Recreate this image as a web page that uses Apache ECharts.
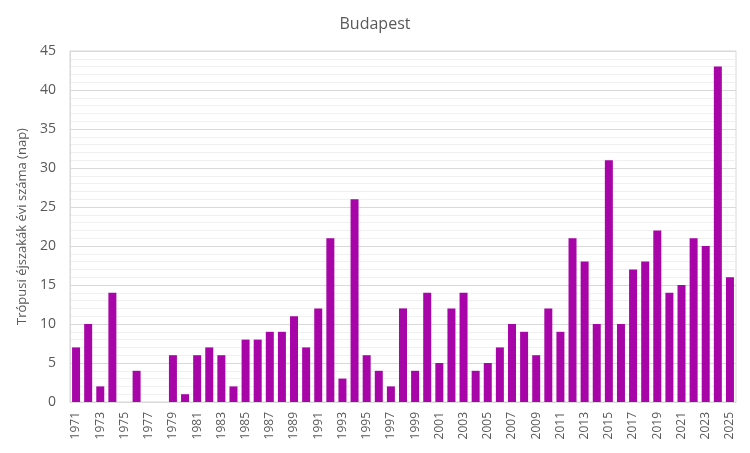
<!DOCTYPE html>
<html>
<head>
<meta charset="utf-8">
<script src="https://cdn.jsdelivr.net/npm/echarts@6/dist/echarts.min.js"></script>
<style>
  html, body { margin: 0; padding: 0; background: #fff; }
  #chart { width: 750px; height: 453px; }
</style>
</head>
<body>
<div id="chart"></div>
<script>
const years = []
for (let y = 1971; y <= 2025; y++) years.push(String(y))

const nights = [
  7, 10, 2, 14, 0, 4, 0, 0, 6, 1,
  6, 7, 6, 2, 8, 8, 9, 9, 11, 7,
  12, 21, 3, 26, 6, 4, 2, 12, 4, 14,
  5, 12, 14, 4, 5, 7, 10, 9, 6, 12,
  9, 21, 18, 10, 31, 10, 17, 18, 22, 14,
  15, 21, 20, 43, 16
]

const chart = echarts.init(document.getElementById('chart'))
const textColor = '#595959'
chart.setOption({
  animation: false,
  title: {
    text: 'Budapest',
    left: 'center',
    top: 11,
    textStyle: { color: textColor, fontSize: 16, fontWeight: 'normal', fontFamily: 'Open Sans' }
  },
  grid: {
    left: 70,
    right: 14,
    top: 51,
    bottom: 51,
    show: true,
    borderColor: '#d9d9d9',
    borderWidth: 1
  },
  xAxis: {
    type: 'category',
    data: years,
    axisLine: { lineStyle: { color: '#d9d9d9' } },
    axisTick: { show: false },
    axisLabel: {
      interval: 1,
      rotate: 90,
      color: textColor,
      fontSize: 12,
      fontFamily: 'Open Sans',
      margin: 10
    }
  },
  yAxis: {
    type: 'value',
    min: 0,
    max: 45,
    interval: 5,
    name: 'Trópusi éjszakák évi száma (nap)',
    nameLocation: 'middle',
    nameGap: 40,
    nameTextStyle: { color: textColor, fontSize: 13, fontFamily: 'Open Sans' },
    axisLine: { show: true, lineStyle: { color: '#d9d9d9' } },
    axisLabel: { color: textColor, fontSize: 14, fontFamily: 'Open Sans', margin: 14 },
    splitLine: { lineStyle: { color: '#d9d9d9' } },
    minorTick: { show: false, splitNumber: 5 },
    minorSplitLine: { show: true, lineStyle: { color: '#f0f0f0' } }
  },
  series: [
    {
      type: 'bar',
      data: nights,
      barCategoryGap: '34%',
      itemStyle: { color: '#a705a7' }
    }
  ]
})
</script>
</body>
</html>
